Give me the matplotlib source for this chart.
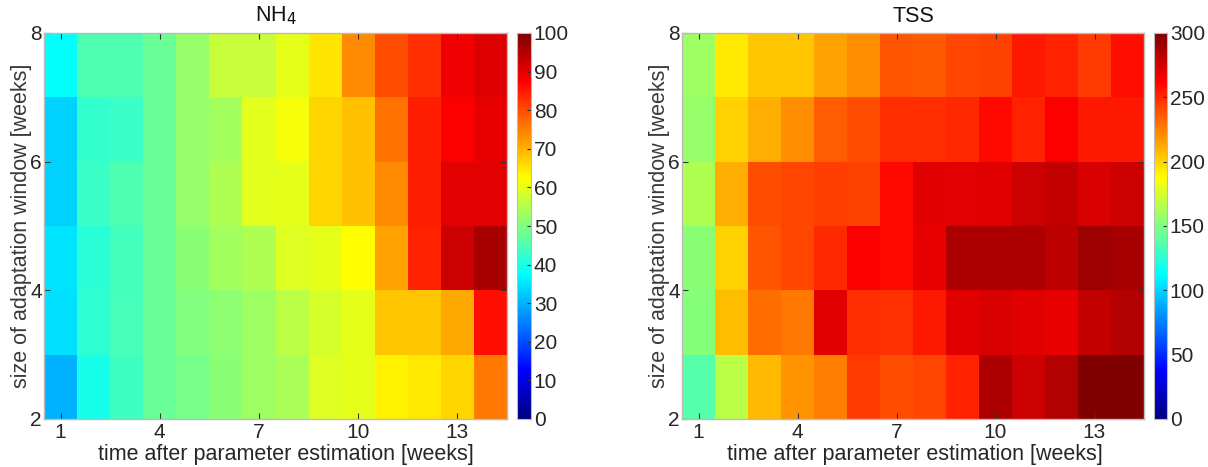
import numpy as np
import matplotlib
matplotlib.use("Agg")
import matplotlib.pyplot as plt
from matplotlib.colors import LinearSegmentedColormap

weeks = list(range(1, 15))
window_edges = [2, 3, 4, 5, 6, 7, 8]

# rows ordered bottom (window 2-3) to top (window 7-8)
nh4 = [
    [29.7, 39.5, 43.5, 48, 49, 51, 53, 54, 59, 60, 64, 64.5, 66.5, 75.5],
    [34.5, 42, 44.5, 48, 50, 51.5, 53, 55.5, 58.5, 60, 68, 68, 71, 86],
    [35, 41.5, 44, 48, 51, 53.5, 54.5, 59, 60, 62.5, 71.7, 84, 92.5, 96],
    [33, 43, 45, 48, 52, 54.5, 59.5, 60, 66.5, 68.5, 74, 84.5, 90, 90],
    [33, 42.5, 43, 48, 52, 53.5, 59.5, 61.5, 66.5, 68.5, 76.5, 84.5, 87.5, 89.5],
    [37.5, 45, 45, 48, 52, 57, 57, 60, 65, 74, 80, 83, 89, 91],
]
tss = [
    [137.5, 167, 208, 218, 225.5, 246, 240, 242, 253, 286, 277.5, 284, 299, 299],
    [152, 206.5, 230, 227, 271, 249, 248, 255, 271, 273.5, 271, 268.5, 280, 284],
    [153.5, 201, 237.5, 242, 250, 262.5, 259.5, 268.5, 286, 286, 286, 281.5, 291.5, 288],
    [164, 212, 240, 242, 244, 243, 259.5, 271, 270, 271, 277.5, 280, 273.5, 277.5],
    [157, 201, 212, 221, 235, 240, 249, 249, 250, 259.5, 253, 262.5, 255, 255],
    [159, 193.5, 204, 205, 215, 221, 237.5, 236, 242, 243, 255, 253, 246, 258],
]
titles = [r"NH$_4$", "TSS"]
vmaxes = [100, 300]
cbar_ticks = [list(range(0, 101, 10)), list(range(0, 301, 50))]
xticks = [1, 4, 7, 10, 13]
yticks = [2, 4, 6, 8]
xlabel = "time after parameter estimation [weeks]"
ylabel = "size of adaptation window [weeks]"

# MATLAB-style jet colormap
matlab_jet = LinearSegmentedColormap('matlab_jet', {
    'red':   [(0, 0, 0), (0.375, 0, 0), (0.625, 1, 1), (0.875, 1, 1), (1, 0.5, 0.5)],
    'green': [(0, 0, 0), (0.125, 0, 0), (0.375, 1, 1), (0.625, 1, 1), (0.875, 0, 0), (1, 0, 0)],
    'blue':  [(0, 0.5, 0.5), (0.125, 1, 1), (0.375, 1, 1), (0.625, 0, 0), (1, 0, 0)],
}, N=256)

plt.rcParams['font.family'] = ['Liberation Sans', 'DejaVu Sans']
txt = '#262626'

W, H = 1208, 467
fig = plt.figure(figsize=(W / 100, H / 100), dpi=100)

def ax_rect(x0, x1, y0, y1):
    return [x0 / W, 1 - y1 / H, (x1 - x0) / W, (y1 - y0) / H]

ax_px = [(44, 507), (682, 1144)]
cb_px = [(517, 531), (1154, 1167)]
ytop, ybot = 33, 419
xlabel_shift = [10, 2]

x_edges = np.arange(0.5, 15.0, 1.0)

for i, data in enumerate([nh4, tss]):
    ax = fig.add_axes(ax_rect(ax_px[i][0], ax_px[i][1], ytop, ybot))
    cax = fig.add_axes(ax_rect(cb_px[i][0], cb_px[i][1], ytop, ybot))
    m = ax.pcolormesh(x_edges, window_edges, np.array(data), cmap=matlab_jet,
                      vmin=0, vmax=vmaxes[i], shading='flat')
    ax.set_xlim(0.5, 14.5)
    ax.set_ylim(2, 8)
    ax.set_xticks(xticks)
    ax.set_yticks(yticks)
    ax.tick_params(direction='in', length=4, width=0.8, color='#333333',
                   labelsize=15, labelcolor=txt, top=True, right=True, pad=3)
    ax.tick_params(axis='y', pad=1.5)
    for s in ax.spines.values():
        s.set_color('#bbbbbb')
        s.set_linewidth(1.0)
    ax.set_title(titles[i], fontsize=15.5, color='#111111', pad=8)
    ax.set_xlabel(xlabel, fontsize=15.5, color=txt, labelpad=1)
    ax.set_ylabel(ylabel, fontsize=15.5, color='#3a3a3a', labelpad=-1)
    w = ax_px[i][1] - ax_px[i][0]
    ax.xaxis.set_label_coords(0.5 + xlabel_shift[i] / w, -0.065)
    cb = fig.colorbar(m, cax=cax, ticks=cbar_ticks[i])
    cb.outline.set_edgecolor('#bbbbbb')
    cax.tick_params(direction='in', length=3, labelsize=15, labelcolor=txt,
                    color='#333333', pad=2)

fig.savefig('out.png', dpi=100)
